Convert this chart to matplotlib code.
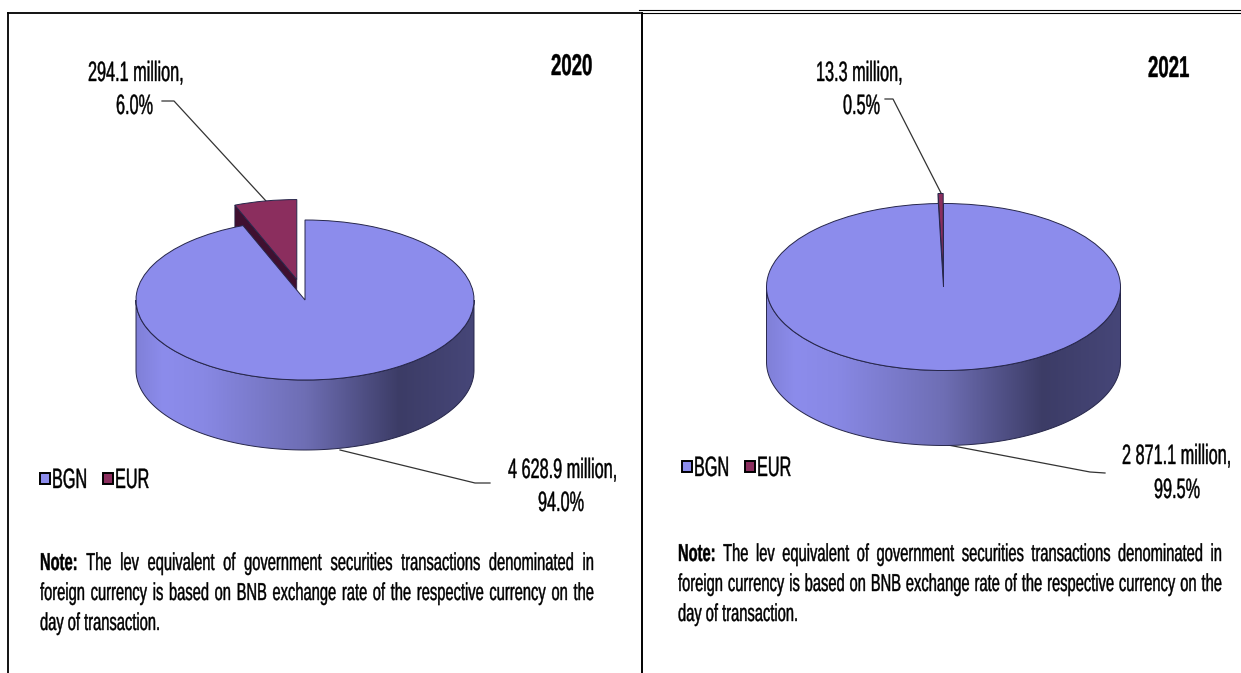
import numpy as np
import matplotlib
matplotlib.use('Agg')
import matplotlib.pyplot as plt
import matplotlib.patheffects as pe
from matplotlib.colors import LinearSegmentedColormap
from matplotlib.patches import Polygon, Rectangle
from matplotlib.text import Text
from matplotlib.transforms import Affine2D, Bbox

plt.rcParams['font.family'] = ['Liberation Sans', 'DejaVu Sans']

### Data
currencies = ['BGN', 'EUR']
values_2020 = [4628.9, 294.1]
values_2021 = [2871.1, 13.3]
bgn_label_2020 = ['4 628.9 million,', '94.0%']
eur_label_2020 = ['294.1 million,', '6.0%']
bgn_label_2021 = ['2 871.1 million,', '99.5%']
eur_label_2021 = ['13.3 million,', '0.5%']
note_lines = ['The lev equivalent of government securities transactions denominated in',
              'foreign currency is based on BNB exchange rate of the respective currency on the',
              'day of transaction.']

W, H = 1241, 673
BGN_COLOR = '#8c8cec'
EUR_COLOR = '#8b2e5e'
EUR_SIDE = '#3f1030'
EDGE = '#26264a'

rim_cmap = LinearSegmentedColormap.from_list('rim', [(0, '#8080d8'), (0.08, '#8c8cec'), (0.2, '#8888e4'),
                                                     (0.5, '#6e6eb4'), (0.78, '#3c3c66'), (1, '#464678')])


# the reference text is squashed sideways, so squash the glyph outlines the same way
class Squeeze(pe.AbstractPathEffect):
    def __init__(self, factor):
        super().__init__()
        self.factor = factor

    def draw_path(self, renderer, gc, tpath, affine, rgbFace=None):
        m = affine.get_matrix().copy()
        m[0, 0] *= self.factor
        gc0 = renderer.new_gc()
        gc0.copy_properties(gc)
        gc0.set_linewidth(0.3)
        gc0.set_foreground(rgbFace)
        renderer.draw_path(gc0, tpath, Affine2D(m), rgbFace)
        gc0.restore()


class SquashedText(Text):
    def __init__(self, x, y, s, factor, **kw):
        super().__init__(x, y, s, **kw)
        self.factor = factor
        self.set_path_effects([Squeeze(factor)])

    def get_window_extent(self, renderer=None, dpi=None):
        b = super().get_window_extent(renderer, dpi)
        return Bbox.from_extents(b.x0, b.y0, b.x0 + b.width * self.factor, b.y1)


fig = plt.figure(figsize=(W / 100, H / 100), dpi=100, facecolor='white')
bg = fig.add_axes([0, 0, 1, 1])
bg.set_xlim(0, W)
bg.set_ylim(H, 0)
bg.axis('off')


def label(x, y, s, size=28, weight='normal', factor=0.58):
    t = SquashedText(x, y, s, factor, fontsize=size * 0.72, fontweight=weight, color='black', ha='left', va='baseline')
    bg.add_artist(t)
    return t


def note(x_left, x_right, y_first, pitch=30):
    renderer = fig.canvas.get_renderer()
    for i, line in enumerate(note_lines):
        words = line.split(' ')
        if i == 0:
            words = ['Note:'] + words
        y = y_first + i * pitch
        texts = [label(0, y, w, 24.5, 'bold' if w == 'Note:' else 'normal', 0.6) for w in words]
        widths = [t.get_window_extent(renderer).width for t in texts]
        if i < len(note_lines) - 1:
            gap = (x_right - x_left - sum(widths)) / (len(words) - 1)
        else:
            gap = 24.5 * 0.278 * 0.6
        x = x_left
        for t, w in zip(texts, widths):
            t.set_x(x)
            x += w + gap


def pie3d(values, cx, cy, rx, ry, depth_px, explode):
    depth = depth_px / ry
    top, bottom = 1.6, -(1 + depth + 0.1)
    left, right = -1.1, 1.1
    ax = fig.add_axes([(cx + left * rx) / W, 1 - (cy - bottom * ry) / H, (right - left) * rx / W, (top - bottom) * ry / H])
    # EUR first so that it opens anticlockwise from 12 o'clock
    wedges, _ = ax.pie([values[1], values[0]], colors=[EUR_COLOR, BGN_COLOR], startangle=90, explode=[explode, 0],
                       wedgeprops=dict(edgecolor=EDGE, linewidth=0.7))
    ax.set_aspect('auto')
    eur, bgn = wedges
    eur.set_zorder(2)
    bgn.set_zorder(5)

    # cut face of the pulled out slice, the rest is hidden by the BGN top
    a = np.deg2rad(eur.theta2)
    ex, ey = eur.center
    corner = (ex + np.cos(a), ey + np.sin(a))
    ax.add_patch(Polygon([(ex, ey), corner, (corner[0], corner[1] - depth), (ex, ey - depth)],
                         facecolor=EUR_SIDE, edgecolor=EDGE, linewidth=0.5, zorder=1))

    # front wall of the BGN slice
    t = np.linspace(np.pi, 2 * np.pi, 200)
    upper = np.column_stack([np.cos(t), np.sin(t)])
    lower = np.column_stack([np.cos(t[::-1]), np.sin(t[::-1]) - depth])
    rim = Polygon(np.vstack([upper, lower]), facecolor='none', edgecolor=EDGE, linewidth=0.7, zorder=4)
    ax.add_patch(rim)
    im = ax.imshow(np.linspace(0, 1, 256)[None, :], extent=(-1, 1, -1 - depth, 0), aspect='auto', cmap=rim_cmap, zorder=3)
    im.set_clip_path(rim)

    ax.set_xlim(left, right)
    ax.set_ylim(bottom, top)
    ax.axis('off')
    return ax


def legend(x0, y_box, y_text):
    for name, color, x in zip(currencies, [BGN_COLOR, EUR_COLOR], [x0, x0 + 63]):
        bg.add_patch(Rectangle((x, y_box), 10, 11, facecolor=color, edgecolor='black', linewidth=1.4))
        label(x + 12, y_text, name, 28)


### Frames
bg.plot([8, 640], [13, 13], color='black', lw=1.3)
bg.plot([8, 8], [13, H], color='black', lw=1.3)
bg.plot([641.5, 641.5], [13, H], color='black', lw=1.4)
bg.plot([639, W], [9.5, 9.5], color='black', lw=0.8)
bg.plot([642, W], [13, 13], color='black', lw=0.8)

### 2020
pie3d(values_2020, 305, 300, 169, 80, 70, 0.26)
label(551, 75, '2020', 30, 'bold', 0.62)
label(88, 81, eur_label_2020[0])
label(116, 114, eur_label_2020[1])
label(508, 478, bgn_label_2020[0])
label(538, 511, bgn_label_2020[1])
bg.plot([162, 174, 266], [101, 101, 201], color='#333333', lw=0.9)
bg.plot([490, 475, 340], [483, 483, 450], color='#333333', lw=0.9)
legend(40, 473, 488)
note(40, 594, 570)

### 2021
pie3d(values_2021, 943.5, 287, 177, 83.5, 75, 0.12)
label(1148, 77, '2021', 30, 'bold', 0.62)
label(816, 81, eur_label_2021[0])
label(843, 114, eur_label_2021[1])
label(1122, 464, bgn_label_2021[0])
label(1154, 498, bgn_label_2021[1])
bg.plot([885, 893, 941], [99, 99, 193], color='#333333', lw=0.9)
bg.plot([1105, 1090, 948], [473, 472, 445], color='#333333', lw=0.9)
legend(682, 461, 476)
note(678, 1222, 561)

fig.savefig('out.png', dpi=100)
